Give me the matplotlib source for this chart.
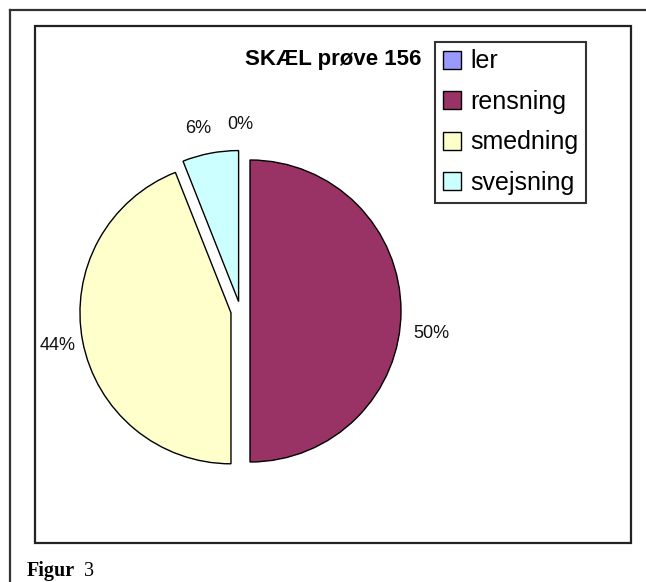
import matplotlib.pyplot as plt
from matplotlib.patches import Rectangle

# data (percent shares)
categories = ["ler", "rensning", "smedning", "svejsning"]
shares = [0, 50, 44, 6]
colors = ["#9999FF", "#993366", "#FFFFCC", "#CCFFFF"]
title = "SKÆL prøve 156"

W, H = 646, 582
fig = plt.figure(figsize=(W / 100, H / 100), dpi=100)
ax = fig.add_axes([0, 0, 1, 1])
ax.set_xlim(0, W)
ax.set_ylim(H, 0)
ax.axis("off")

# page border and chart frame
ax.plot([9.5, W], [9.5, 9.5], color="#333333", lw=1.6)
ax.plot([9.5, 9.5], [9.5, H], color="#333333", lw=1.6)
ax.add_patch(Rectangle((35, 26), 596, 517, fill=False, ec="#222222", lw=1.6))

# pie axes in y-up pixel units so that direction is clockwise as in the original
pax = fig.add_axes([0, 0, 1, 1])
pax.set_xlim(0, W)
pax.set_ylim(0, H)
pax.axis("off")
wedges, texts, autotexts = pax.pie(
    shares, colors=colors, explode=[9.6] * 4, startangle=90, counterclock=False,
    center=(240.4, H - 311), radius=151, autopct="%.0f%%", pctdistance=1.17,
    wedgeprops=dict(edgecolor="black", linewidth=1.0),
    textprops=dict(family="Liberation Sans", fontsize=13, color="#111111"),
)
pax.set_xlim(0, W)
pax.set_ylim(0, H)
wedges[0].set_linewidth(0)
x, y = autotexts[1].get_position()
autotexts[1].set_position((x + 5, y - 22))
x, y = autotexts[3].get_position()
autotexts[3].set_position((x - 7, y))

fig.text(333 / W, 1 - 60 / H, title, ha="center", va="center",
         family="Liberation Sans", fontweight="bold", fontsize=16)

leg = fig.legend(wedges, categories, loc="upper left",
                 bbox_to_anchor=(435 / W, 1 - 42 / H), borderaxespad=0,
                 prop=dict(family="Liberation Sans", size=18),
                 fancybox=False, frameon=True, edgecolor="black",
                 handlelength=0.75, handleheight=0.75, handletextpad=0.35,
                 labelspacing=0.66, borderpad=0.3)
leg.get_frame().set_linewidth(1.5)
for h in leg.legend_handles:
    h.set_linewidth(1.0)
    h.set_edgecolor("black")

fig.text(27 / W, 1 - 576 / H, "Figur", family="Liberation Serif",
         fontweight="bold", fontsize=14.5, va="baseline")
fig.text(84 / W, 1 - 576 / H, "3", family="Liberation Serif",
         fontsize=14.5, va="baseline")

fig.savefig("out.png", dpi=100)
